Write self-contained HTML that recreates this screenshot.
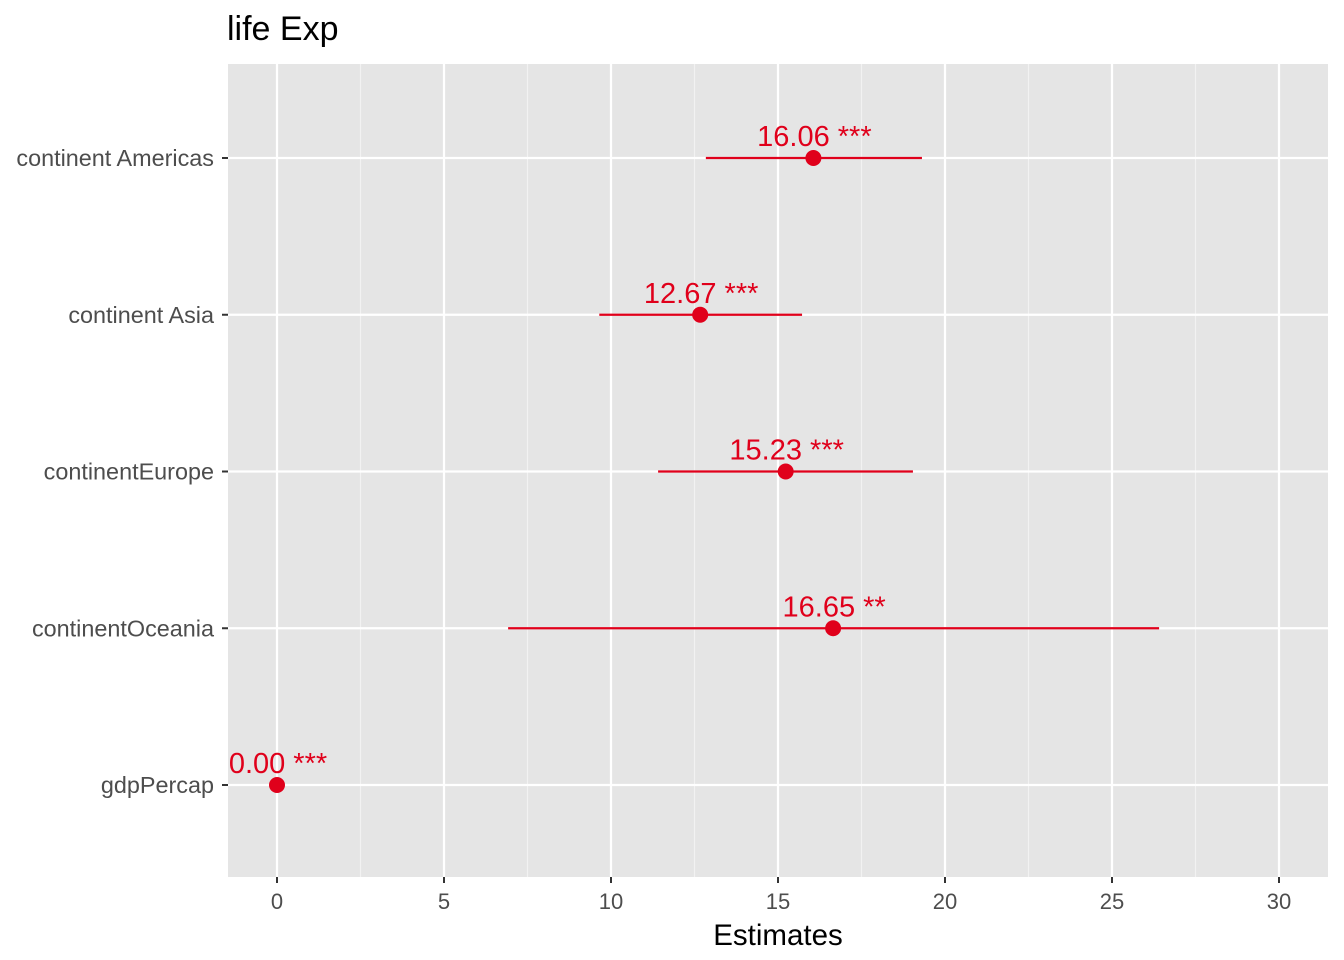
<!DOCTYPE html>
<html><head><meta charset="utf-8"><style>body{margin:0;background:#fff}svg{display:block;font-family:"Liberation Sans",Arial,sans-serif}</style></head>
<body>
<svg id="chart" width="1344" height="960" xmlns="http://www.w3.org/2000/svg">
<text x="227" y="40" font-size="34" fill="#000">life Exp</text>
<rect x="228" y="64" width="1100" height="813" fill="#e5e5e5"/>
<g id="grid"></g><g id="marks"></g><g id="axes"></g>
<text x="778" y="945" font-size="29.5" text-anchor="middle" fill="#000">Estimates</text>
</svg>
<script>
const terms=["continent Americas","continent Asia","continentEurope","continentOceania","gdpPercap"];
const estimates=[16.06,12.67,15.23,16.65,0.00];
const ciLow=[12.84,9.65,11.41,6.92,0];
const ciHigh=[19.31,15.72,19.04,26.41,0];
const stars=["***","***","***","**","***"];
const xTicks=[0,5,10,15,20,25,30];
const NS="http://www.w3.org/2000/svg";
const x=v=>277+v*33.4;
const y=i=>158+i*156.75;
function mk(tag,attrs,parent){const e=document.createElementNS(NS,tag);for(const k in attrs)e.setAttribute(k,attrs[k]);document.getElementById(parent).appendChild(e);return e;}
for(let i=0;i<xTicks.length-1;i++){const m=(xTicks[i]+xTicks[i+1])/2;
 const l=mk('line',{x1:x(m),x2:x(m),y1:64,y2:877,stroke:'#f2f2f2','stroke-width':1.1},'grid');
 
 }
xTicks.forEach(t=>{
 const l=mk('line',{x1:x(t),x2:x(t),y1:64,y2:877,stroke:'#fff','stroke-width':2.2},'grid');
 
 
 const tk=mk('line',{x1:x(t),x2:x(t),y1:877,y2:883,stroke:'#333','stroke-width':2},'axes');
 
 
 const tx=mk('text',{x:x(t),y:909,'font-size':22,'text-anchor':'middle',fill:'#4d4d4d'},'axes');tx.textContent=t;
 
 
});
terms.forEach((t,i)=>{
 const g=mk('line',{x1:228,x2:1328,y1:y(i),y2:y(i),stroke:'#fff','stroke-width':2.2},'grid');
 
 
 const tk=mk('line',{x1:222,x2:228,y1:y(i),y2:y(i),stroke:'#333','stroke-width':2},'axes');
 
 
 const tx=mk('text',{x:214,y:y(i)+8,'font-size':23.4,'text-anchor':'end',fill:'#4d4d4d'},'axes');tx.textContent=t;
 
 
 const ci=mk('line',{x1:x(ciLow[i]),x2:x(ciHigh[i]),y1:y(i),y2:y(i),stroke:'#e0001b','stroke-width':2.2},'marks');
 
 
 const p=mk('circle',{cx:x(estimates[i]),cy:y(i),r:8,fill:'#e0001b'},'marks');
 
 
 const lb=mk('text',{x:x(estimates[i])+1,y:y(i)-12,'font-size':29,'text-anchor':'middle',fill:'#e0001b'},'marks');
 lb.textContent=estimates[i].toFixed(2)+' '+stars[i];
 
 
});
</script>
</body></html>
